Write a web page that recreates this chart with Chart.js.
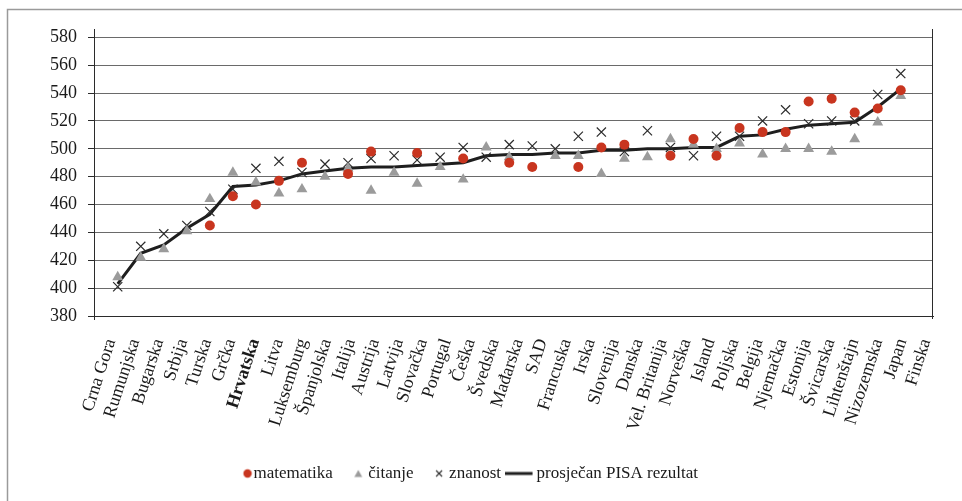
<!DOCTYPE html>
<html lang="hr">
<head>
<meta charset="utf-8">
<title>PISA rezultati</title>
<script src="https://cdn.jsdelivr.net/npm/chart.js@4.4.1/dist/chart.umd.min.js"></script>
<style>
  html, body { margin: 0; padding: 0; background: #fff; }
  #wrap { position: relative; width: 962px; height: 501px; }
</style>
</head>
<body>
<div id="wrap"><canvas id="grafPisa" width="962" height="501"></canvas></div>
<script>
// podaci (PISA) - ocitano sa slike
const zemlje = ['Crna Gora', 'Rumunjska', 'Bugarska', 'Srbija', 'Turska', 'Grčka', 'Hrvatska', 'Litva',
  'Luksemburg', 'Španjolska', 'Italija', 'Austrija', 'Latvija', 'Slovačka', 'Portugal', 'Češka', 'Švedska',
  'Mađarska', 'SAD', 'Francuska', 'Irska', 'Slovenija', 'Danska', 'Vel. Britanija', 'Norveška', 'Island',
  'Poljska', 'Belgija', 'Njemačka', 'Estonija', 'Švicarska', 'Lihtenštajn', 'Nizozemska', 'Japan', 'Finska'];

const matematika = [null, null, null, null, 445, 466, 460, 477, 490, null, 482, 498, null, 497, null, 493, null,
  490, 487, null, 487, 501, 503, null, 495, 507, 495, 515, 512, 512, 534, 536, 526, 529, 542];

const citanje = [408, 422, 428, 441, 464, 483, 476, 468, 471, 480, 486, 470, 483, 475, 487, 478, 501,
  494, null, 495, 495, 482, 493, 494, 507, 503, 500, 504, 496, 500, 500, 498, 507, 519, 538];

const znanost = [401, 430, 439, 445, 455, 471, 486, 491, 483, 489, 490, 493, 495, 492, 494, 501, 494,
  503, 502, 500, 509, 512, 498, 513, 501, 495, 509, 509, 520, 528, 518, 520, 520, 539, 554];

const prosjek = [403, 425, 431, 443, 453, 473, 474, 477, 482, 484, 486, 487, 487, 488, 489, 490, 495,
  496, 496, 497, 497, 499, 499, 500, 500, 501, 501, 509, 510, 514, 517, 518, 519, 530, 543];

// oznake na osi y
const yOznake = [380, 400, 420, 440, 460, 480, 500, 520, 540, 560, 580];
const istaknuta = 'Hrvatska';

const serif = "'Liberation Serif', 'Times New Roman', serif";
const CRVENA = '#c8351f';
const SIVA = '#9b9b9b';
const TAMNA = '#2b2b2b';

// pretvori niz u tocke (x = redni broj zemlje)
const tocke = arr => arr.map((v, i) => ({ x: i, y: v }));

// male ikone za legendu
function ikona(w, h, crtaj) {
  const c = document.createElement('canvas');
  c.width = w; c.height = h;
  crtaj(c.getContext('2d'));
  return c;
}
const ikonaTocka = ikona(25, 12, g => {
  g.fillStyle = CRVENA; g.beginPath(); g.arc(20, 6, 4.2, 0, Math.PI * 2); g.fill();
});
const ikonaTrokut = ikona(19, 12, g => {
  g.fillStyle = SIVA; g.beginPath(); g.moveTo(13, 2.5); g.lineTo(17, 9.5); g.lineTo(9, 9.5); g.closePath(); g.fill();
});
const ikonaKriz = ikona(19, 12, g => {
  g.strokeStyle = TAMNA; g.lineWidth = 1.1; g.beginPath();
  g.moveTo(10, 3); g.lineTo(16, 9); g.moveTo(16, 3); g.lineTo(10, 9); g.stroke();
});
const ikonaLinija = ikona(37, 12, g => {
  g.strokeStyle = '#1e1e1e'; g.lineWidth = 3; g.beginPath(); g.moveTo(0, 6); g.lineTo(28, 6); g.stroke();
});
const ikoneLegende = [ikonaTocka, ikonaTrokut, ikonaKriz, ikonaLinija];

// okvir slike i desni rub podrucja grafa
const okvir = {
  id: 'okvir',
  beforeDraw(chart) {
    const { ctx, width, height } = chart;
    ctx.save();
    ctx.fillStyle = '#fff';
    ctx.fillRect(0, 0, width, height);
    ctx.strokeStyle = '#9a9a9a';
    ctx.lineWidth = 1.5;
    ctx.beginPath();
    ctx.moveTo(7.5, height);
    ctx.lineTo(7.5, 9.5);
    ctx.lineTo(width, 9.5);
    ctx.stroke();
    ctx.restore();
  },
  afterDraw(chart) {
    const { ctx, chartArea: a } = chart;
    ctx.save();
    ctx.strokeStyle = TAMNA;
    ctx.lineWidth = 1;
    ctx.beginPath();
    ctx.moveTo(Math.round(a.right) - 0.5, a.top);
    ctx.lineTo(Math.round(a.right) - 0.5, a.bottom + 3);
    ctx.moveTo(Math.round(a.left) + 0.5, a.bottom);
    ctx.lineTo(Math.round(a.left) + 0.5, a.bottom + 4);
    ctx.stroke();
    ctx.restore();
  }
};

const osnovneOznake = Chart.defaults.plugins.legend.labels.generateLabels;

new Chart(document.getElementById('grafPisa'), {
  type: 'line',
  data: {
    labels: zemlje,
    datasets: [
      {
        label: 'matematika',
        data: tocke(matematika),
        xAxisID: 'xd',
        showLine: false,
        pointStyle: 'circle',
        pointRadius: 5,
        pointBackgroundColor: CRVENA,
        pointBorderColor: CRVENA,
        pointBorderWidth: 0
      },
      {
        label: 'čitanje',
        data: tocke(citanje),
        xAxisID: 'xd',
        showLine: false,
        pointStyle: 'triangle',
        pointRadius: 6.3,
        pointBackgroundColor: SIVA,
        pointBorderColor: SIVA,
        pointBorderWidth: 0
      },
      {
        label: 'znanost',
        data: tocke(znanost),
        xAxisID: 'xd',
        showLine: false,
        pointStyle: 'crossRot',
        pointRadius: 6.5,
        pointBorderColor: TAMNA,
        pointBorderWidth: 1.2
      },
      {
        label: 'prosječan PISA rezultat',
        data: tocke(prosjek),
        xAxisID: 'xd',
        borderColor: '#1e1e1e',
        borderWidth: 3,
        tension: 0,
        pointRadius: 0,
        fill: false
      }
    ]
  },
  options: {
    responsive: false,
    animation: false,
    layout: { padding: { left: 0, right: 29, top: 29, bottom: 9 } },
    scales: {
      x: {
        type: 'category',
        offset: true,
        grid: { display: false },
        border: { display: true, color: TAMNA, width: 1 },
        afterFit: (s) => { s.height = 132; },
        ticks: {
          autoSkip: false,
          minRotation: 72,
          maxRotation: 72,
          padding: 12,
          labelOffset: 5,
          color: '#1a1a1a',
          font: (c) => ({
            family: serif,
            size: 18,
            weight: zemlje[c.index] === istaknuta ? 'bold' : 'normal'
          })
        }
      },
      // skala za tocke podataka (razmak tocaka kao na izvorniku)
      xd: {
        type: 'linear',
        axis: 'x',
        position: 'bottom',
        display: false,
        min: -1.03,
        max: 35.4
      },
      y: {
        min: yOznake[0],
        max: 586,
        afterBuildTicks: (s) => { s.ticks = yOznake.map(v => ({ value: v })); },
        afterFit: (s) => { s.width = 94; },
        grid: { color: '#6a6a6a', lineWidth: 1, tickLength: 6, tickColor: TAMNA },
        border: { display: true, color: TAMNA, width: 1 },
        ticks: {
          padding: 11,
          color: '#1a1a1a',
          font: { family: serif, size: 18 }
        }
      }
    },
    plugins: {
      tooltip: { enabled: false },
      legend: {
        position: 'bottom',
        labels: {
          usePointStyle: true,
          pointStyleWidth: 10,
          boxHeight: 8,
          padding: 17,
          color: '#1a1a1a',
          font: { family: serif, size: 17 },
          generateLabels: (chart) => {
            const stavke = osnovneOznake(chart);
            stavke.forEach((s, i) => { s.pointStyle = ikoneLegende[i]; });
            return stavke;
          }
        }
      }
    }
  },
  plugins: [okvir]
});
</script>
</body>
</html>
